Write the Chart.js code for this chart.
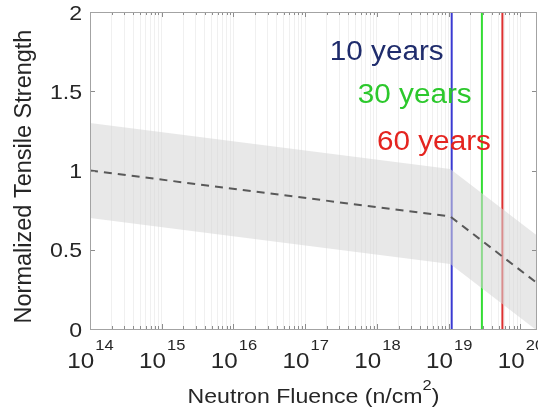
<!DOCTYPE html>
<html>
<head>
<meta charset="utf-8">
<script src="https://cdn.jsdelivr.net/npm/chart.js@4/dist/chart.umd.min.js"></script>
<style>
  html, body { margin: 0; padding: 0; background: #ffffff; }
  #wrap { width: 538px; height: 414px; }
</style>
</head>
<body>
<div id="wrap"><canvas id="c" width="538" height="414"></canvas></div>
<script>
// Fluence axis: decades labelled along the bottom
const decadeExps = [14, 15, 16, 17, 18, 19, 20];
const xMin = 1e14;
const xMax = 1.7e20;
const yTicks = [0, 0.5, 1, 1.5, 2];

// Normalized tensile strength vs neutron fluence (mean and bounds)
const fluence = [1e14, 1.05e19, 1.7e20];
const meanStrength = [1.0, 0.71, 0.29];
const upperBound = [1.30, 1.01, 0.59];
const lowerBound = [0.70, 0.41, -0.01];

// Fluence reached after a given service time
const serviceLabels = ['10 years', '30 years', '60 years'];
const serviceFluence = [1.1e19, 2.9e19, 5.6e19];

// Where each service-time caption sits (left edge, baseline), in data units
const captionFluence = [2.2e17, 5.4e17, 1.0e18];
const captionStrength = [1.70, 1.425, 1.131];

const serviceLineColors = ['#3a3ad2', '#33dd33', '#dd3030'];
const serviceTextColors = ['#1f2c6c', '#2cc82c', '#e4241f'];

const FONT = '"Liberation Sans", Arial, Helvetica, sans-serif';
const TEXT = '#262626';
const SX = 1.1; // horizontal text widening

// Minor/major tick values along the log axis
const logTicks = [];
decadeExps.forEach(e => {
  for (let m = 1; m <= 9; m++) {
    const v = m * Math.pow(10, e);
    if (v >= xMin && v <= xMax) logTicks.push({ value: v, major: m === 1 });
  }
});

function drawText(ctx, s, x, y, size, color, align) {
  ctx.save();
  ctx.translate(x, y);
  ctx.scale(SX, 1);
  ctx.font = size + 'px ' + FONT;
  ctx.fillStyle = color;
  ctx.textAlign = align;
  ctx.textBaseline = 'alphabetic';
  ctx.fillText(s, 0, 0);
  ctx.restore();
}
function textWidth(ctx, s, size) {
  ctx.save();
  ctx.font = size + 'px ' + FONT;
  const w = ctx.measureText(s).width * SX;
  ctx.restore();
  return w;
}

const frame = {
  id: 'frame',
  afterDraw(chart) {
    const ctx = chart.ctx;
    const a = chart.chartArea;
    const xs = chart.scales.x, ys = chart.scales.y;

    // inward tick marks
    ctx.save();
    ctx.strokeStyle = '#8c8c8c';
    ctx.lineWidth = 1;
    ctx.beginPath();
    logTicks.forEach(t => {
      const px = Math.round(xs.getPixelForValue(t.value)) + 0.5;
      const len = t.major ? 5 : 3;
      ctx.moveTo(px, a.bottom); ctx.lineTo(px, a.bottom - len);
      ctx.moveTo(px, a.top); ctx.lineTo(px, a.top + len);
    });
    yTicks.forEach(v => {
      const py = Math.round(ys.getPixelForValue(v)) + 0.5;
      ctx.moveTo(a.left, py); ctx.lineTo(a.left + 5, py);
      ctx.moveTo(a.right, py); ctx.lineTo(a.right - 5, py);
    });
    ctx.stroke();

    // axes box
    ctx.strokeStyle = '#a3a3a3';
    ctx.strokeRect(Math.round(a.left) + 0.5, Math.round(a.top) + 0.5,
                   Math.round(a.right - a.left) - 1, Math.round(a.bottom - a.top));
    ctx.restore();

    // y tick labels
    yTicks.forEach(v => {
      const py = ys.getPixelForValue(v);
      drawText(ctx, String(v), a.left - 8, py + 7.5, 21, TEXT, 'right');
    });

    // x tick labels: 10 with raised exponent
    decadeExps.forEach(e => {
      const px = xs.getPixelForValue(Math.pow(10, e));
      const base = '10', exp = String(e);
      const wb = textWidth(ctx, base, 22), we = textWidth(ctx, exp, 15);
      const left = px - (wb + we) / 2;
      drawText(ctx, base, left, a.bottom + 39, 22, TEXT, 'left');
      drawText(ctx, exp, left + wb + 1, a.bottom + 21, 15, TEXT, 'left');
    });

    // x axis title with superscript
    {
      const p1 = 'Neutron Fluence (n/cm', p2 = '2', p3 = ')';
      const w1 = textWidth(ctx, p1, 21), w2 = textWidth(ctx, p2, 15), w3 = textWidth(ctx, p3, 21);
      const cx = (a.left + a.right) / 2;
      let left = cx - (w1 + w2 + w3) / 2;
      drawText(ctx, p1, left, a.bottom + 74, 21, TEXT, 'left');
      drawText(ctx, p2, left + w1, a.bottom + 61, 15, TEXT, 'left');
      drawText(ctx, p3, left + w1 + w2, a.bottom + 74, 21, TEXT, 'left');
    }

    // y axis title
    ctx.save();
    ctx.translate(31, (a.top + a.bottom) / 2 + 6);
    ctx.rotate(-Math.PI / 2);
    ctx.font = '23.5px ' + FONT;
    ctx.fillStyle = TEXT;
    ctx.textAlign = 'center';
    ctx.textBaseline = 'alphabetic';
    ctx.fillText('Normalized Tensile Strength', 0, 0);
    ctx.restore();

    // service-time captions
    serviceLabels.forEach((s, i) => {
      drawText(ctx, s, xs.getPixelForValue(captionFluence[i]),
               ys.getPixelForValue(captionStrength[i]), 27, serviceTextColors[i], 'left');
    });
  }
};

const pts = ys => fluence.map((x, i) => ({ x, y: ys[i] }));
const vline = x => [{ x, y: 0 }, { x, y: 2 }];

new Chart(document.getElementById('c'), {
  type: 'line',
  data: {
    datasets: [
      { label: 'mean', data: pts(meanStrength), borderColor: '#595959', borderWidth: 2,
        borderDash: [8, 6], pointRadius: 0, fill: false, tension: 0, order: 0 },
      { label: 'upper', data: pts(upperBound), borderWidth: 0, borderColor: 'rgba(0,0,0,0)',
        backgroundColor: 'rgba(214,214,214,0.56)', pointRadius: 0, fill: 2, tension: 0, order: 1 },
      { label: 'lower', data: pts(lowerBound), borderWidth: 0, borderColor: 'rgba(0,0,0,0)',
        pointRadius: 0, fill: false, tension: 0, order: 2 },
      ...serviceFluence.map((f, i) => ({
        label: serviceLabels[i], data: vline(f), borderColor: serviceLineColors[i],
        borderWidth: 2, pointRadius: 0, fill: false, order: 3
      }))
    ]
  },
  options: {
    responsive: false,
    animation: false,
    events: [],
    layout: { padding: { top: 12, right: 1, left: 0, bottom: 0 } },
    plugins: { legend: { display: false }, tooltip: { enabled: false } },
    scales: {
      x: {
        type: 'logarithmic', min: xMin, max: xMax,
        afterBuildTicks: s => { s.ticks = logTicks.map(t => ({ value: t.value, major: t.major })); },
        ticks: { display: false },
        grid: { color: '#f0f0f0', lineWidth: 1, drawTicks: false },
        border: { display: false },
        afterFit: s => { s.height = 85; }
      },
      y: {
        type: 'linear', min: 0, max: 2,
        ticks: { display: false, stepSize: 0.5 },
        grid: { display: false, drawTicks: false },
        border: { display: false },
        afterFit: s => { s.width = 90; }
      }
    }
  },
  plugins: [frame]
});
</script>
</body>
</html>
